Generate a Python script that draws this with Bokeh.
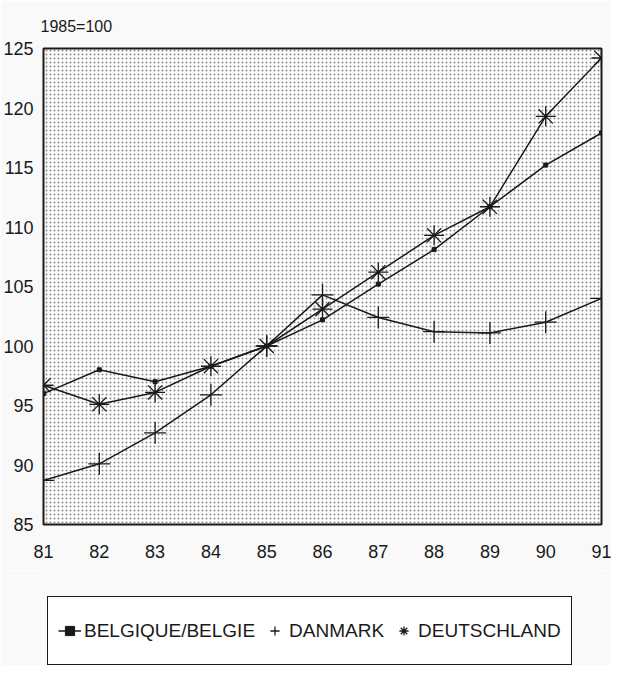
from bokeh.plotting import figure
from bokeh.models import Legend, LegendItem, BoxAnnotation, FixedTicker
from bokeh.layouts import column
from bokeh.embed import file_html
from bokeh.resources import INLINE

years = [81, 82, 83, 84, 85, 86, 87, 88, 89, 90, 91]
belgique = [96.0, 98.0, 97.0, 98.3, 100.0, 102.2, 105.2, 108.1, 111.7, 115.2, 117.9]
danmark = [88.7, 90.1, 92.7, 95.9, 100.0, 104.3, 102.4, 101.2, 101.1, 102.0, 104.0]
deutschland = [96.7, 95.1, 96.1, 98.3, 100.0, 103.1, 106.2, 109.3, 111.7, 119.3, 124.2]
y_ticks = [85, 90, 95, 100, 105, 110, 115, 120, 125]
series_names = ["BELGIQUE/BELGIE", "DANMARK", "DEUTSCHLAND"]

FONT = "Liberation Sans"
INK = "#1a1a1a"
BG = "#f9f9f9"
W = 611

p = figure(width=W, height=570, x_range=(81, 91), y_range=(85, 125),
           output_backend="svg", toolbar_location=None,
           min_border_left=32, min_border_right=10, min_border_top=48,
           min_border_bottom=46)
p.background_fill_color = "#ffffff"
p.border_fill_color = BG
p.outline_line_color = INK
p.outline_line_width = 2
p.xgrid.visible = False
p.ygrid.visible = False

p.add_layout(BoxAnnotation(fill_alpha=0, line_alpha=0, hatch_pattern="dot",
                           hatch_color="#555555", hatch_scale=4, hatch_alpha=0.7,
                           level="underlay"))

p.title.text = "1985=100"
p.title.text_font = FONT
p.title.text_font_size = "16px"
p.title.text_font_style = "normal"
p.title.text_color = INK
p.title.offset = -3
p.title.standoff = 28

for ax in (p.xaxis[0], p.yaxis[0]):
    ax.axis_line_color = None
    ax.major_tick_line_color = None
    ax.minor_tick_line_color = None
    ax.major_label_text_font = FONT
    ax.major_label_text_font_size = "18px"
    ax.major_label_text_color = INK
p.xaxis.ticker = FixedTicker(ticks=years)
p.yaxis.ticker = FixedTicker(ticks=y_ticks)
p.xaxis.major_label_standoff = 14
p.yaxis.major_label_standoff = 4

p.line(years, belgique, line_color=INK, line_width=1.5)
p.scatter(years, belgique, marker="square", size=4, fill_color=INK, line_color=INK)
p.line(years, danmark, line_color=INK, line_width=1.5)
p.scatter(years, danmark, marker="cross", size=22, line_color=INK, line_width=1.3)
p.line(years, deutschland, line_color=INK, line_width=1.5)
p.scatter(years, deutschland, marker="asterisk", size=20, line_color=INK, line_width=1.3)

# legend panel: a separate figure whose ranges keep the data out of view,
# so only the legend box (below the axis labels) is visible
lg = figure(width=W, height=95, x_range=(0, 1), y_range=(0, 1),
            output_backend="svg", toolbar_location=None,
            x_axis_location=None, y_axis_location=None,
            min_border=0, min_border_left=0, min_border_right=0,
            min_border_top=0, min_border_bottom=0)
lg.grid.visible = False
lg.outline_line_color = None
lg.background_fill_color = BG
lg.border_fill_color = BG
r1 = lg.line(years, belgique, line_color=INK, line_width=1.5)
r1m = lg.scatter(years, belgique, marker="square", size=4, fill_color=INK, line_color=INK)
r2 = lg.scatter(years, danmark, marker="cross", size=20, line_color=INK, line_width=1.3)
r3 = lg.scatter(years, deutschland, marker="asterisk", size=18, line_color=INK, line_width=1.3)

legend = Legend(items=[
    LegendItem(label=series_names[0], renderers=[r1, r1m]),
    LegendItem(label=series_names[1], renderers=[r2]),
    LegendItem(label=series_names[2], renderers=[r3]),
], orientation="horizontal", location=(4, 0))
legend.label_text_font = FONT
legend.label_text_font_size = "19px"
legend.label_text_color = INK
legend.border_line_color = INK
legend.border_line_width = 1.2
legend.border_line_alpha = 1
legend.background_fill_color = "#ffffff"
legend.background_fill_alpha = 1
legend.padding = 10
legend.spacing = 8
legend.glyph_width = 23
legend.glyph_height = 47
legend.label_height = 47
legend.label_standoff = 3
legend.margin = 0
lg.add_layout(legend, "center")

layout = column(p, lg, spacing=0)
open("out.html", "w").write(file_html(layout, INLINE))
